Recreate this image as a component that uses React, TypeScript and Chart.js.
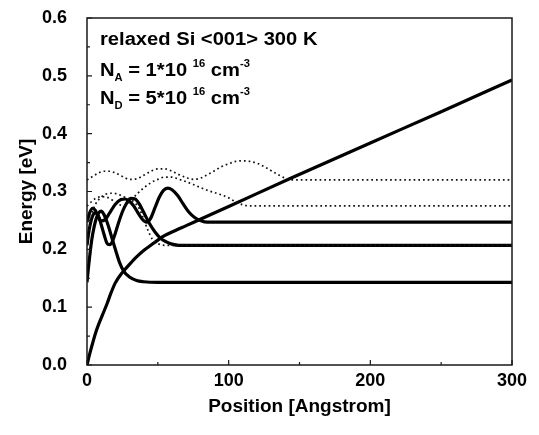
import React, { useEffect, useRef } from "react";
import { Chart, registerables } from "chart.js";

Chart.register(...registerables);

// ---- axis ticks ----
const xTickValues = [0, 100, 200, 300];
const xMinorTicks = [50, 150, 250];
const yTickValues = [0, 0.1, 0.2, 0.3, 0.4, 0.5, 0.6];
const yMinorTicks = [0.05, 0.15, 0.25, 0.35, 0.45, 0.55];

// ---- band-edge potential ----
const potentialX = [0, 2, 4, 6, 8, 11, 14, 17, 20, 25, 30, 35, 40, 45, 50, 55, 60, 70, 80, 100, 143, 200, 250, 300];
const potentialY = [0, 0.02, 0.038, 0.055, 0.069, 0.087, 0.105, 0.125, 0.142, 0.16, 0.174, 0.187, 0.198, 0.207, 0.216, 0.224, 0.23, 0.241, 0.252, 0.274, 0.322, 0.384, 0.438, 0.493];

// ---- solid subbands (levels + wavefunctions) ----
const s0X = [0, 1, 2, 3, 4, 6, 8, 10, 12, 14, 16, 18, 20, 23, 26, 30, 35, 40, 50, 300];
const s0Y = [0.143, 0.168, 0.19, 0.21, 0.226, 0.249, 0.262, 0.266, 0.26, 0.248, 0.233, 0.216, 0.2, 0.177, 0.162, 0.152, 0.146, 0.144, 0.143, 0.143];

const s1X = [0, 1, 2, 4, 6, 8, 10, 12, 14, 16, 18, 20, 22, 25, 28, 31, 34, 37, 40, 44, 48, 52, 56, 60, 65, 70, 300];
const s1Y = [0.207, 0.225, 0.24, 0.258, 0.263, 0.258, 0.243, 0.226, 0.211, 0.208, 0.214, 0.228, 0.244, 0.265, 0.28, 0.288, 0.287, 0.278, 0.264, 0.245, 0.23, 0.219, 0.213, 0.209, 0.207, 0.207, 0.207];

const s2X = [0, 1, 2, 4, 6, 8, 10, 13, 16, 20, 24, 27, 30, 33, 36, 39, 42, 45, 48, 51, 54, 57, 60, 64, 68, 72, 76, 80, 85, 90, 300];
const s2Y = [0.247, 0.256, 0.264, 0.271, 0.267, 0.256, 0.249, 0.252, 0.263, 0.278, 0.286, 0.287, 0.283, 0.275, 0.263, 0.252, 0.247, 0.254, 0.272, 0.29, 0.302, 0.306, 0.303, 0.293, 0.278, 0.264, 0.255, 0.25, 0.247, 0.247, 0.247];

// ---- dotted subbands (levels + wavefunctions) ----
const d0X = [0, 2, 4, 6, 9, 13, 17, 21, 26, 30, 34, 37, 40, 43, 46, 50, 55, 300];
const d0Y = [0.207, 0.24, 0.265, 0.278, 0.288, 0.295, 0.297, 0.296, 0.291, 0.287, 0.28, 0.27, 0.252, 0.233, 0.218, 0.21, 0.207, 0.207];

const d1X = [0, 3, 6, 10, 14, 18, 22, 26, 30, 35, 40, 45, 50, 55, 60, 65, 70, 75, 80, 85, 90, 95, 100, 105, 110, 115, 300];
const d1Y = [0.275, 0.282, 0.288, 0.291, 0.29, 0.285, 0.278, 0.276, 0.282, 0.295, 0.306, 0.315, 0.321, 0.325, 0.325, 0.321, 0.317, 0.312, 0.307, 0.302, 0.298, 0.294, 0.289, 0.282, 0.277, 0.275, 0.275];

const d2X = [0, 4, 8, 12, 16, 20, 25, 30, 35, 40, 45, 50, 55, 60, 65, 70, 75, 80, 85, 90, 95, 100, 105, 110, 115, 120, 125, 130, 135, 140, 145, 150, 300];
const d2Y = [0.32, 0.326, 0.332, 0.335, 0.335, 0.332, 0.326, 0.321, 0.322, 0.328, 0.335, 0.339, 0.339, 0.335, 0.329, 0.324, 0.321, 0.323, 0.329, 0.336, 0.343, 0.348, 0.352, 0.353, 0.352, 0.349, 0.343, 0.336, 0.329, 0.323, 0.32, 0.32, 0.32];

// ---- annotation text ----
const noteLine1 = "relaxed Si <001> 300 K";
const noteLine2 = [
  { t: "N", sub: 0 },
  { t: "A", sub: 1 },
  { t: " = 1*10 ", sub: 0 },
  { t: "16", sub: -1 },
  { t: " cm", sub: 0 },
  { t: "-3", sub: -1 },
];
const noteLine3 = [
  { t: "N", sub: 0 },
  { t: "D", sub: 1 },
  { t: " = 5*10 ", sub: 0 },
  { t: "16", sub: -1 },
  { t: " cm", sub: 0 },
  { t: "-3", sub: -1 },
];

const FONT = '"Liberation Sans", Arial, sans-serif';

const toPts = (xs: number[], ys: number[]) => xs.map((x, i) => ({ x, y: ys[i] }));

const framePlugin = {
  id: "framePlugin",
  afterDraw(chart: any) {
    const { ctx, chartArea } = chart;
    const { left, top, right, bottom } = chartArea;
    const xs = chart.scales.x;
    const ys = chart.scales.y;
    ctx.save();
    ctx.strokeStyle = "#1a1a1a";
    ctx.lineWidth = 1.5;
    ctx.strokeRect(left, top, right - left, bottom - top);
    ctx.lineWidth = 1.2;
    ctx.beginPath();
    yTickValues.forEach((v) => {
      const p = ys.getPixelForValue(v);
      ctx.moveTo(left, p);
      ctx.lineTo(left + 5, p);
    });
    yMinorTicks.forEach((v) => {
      const p = ys.getPixelForValue(v);
      ctx.moveTo(left, p);
      ctx.lineTo(left + 3, p);
    });
    xTickValues.forEach((v) => {
      const p = xs.getPixelForValue(v);
      ctx.moveTo(p, bottom);
      ctx.lineTo(p, bottom - 5);
    });
    xMinorTicks.forEach((v) => {
      const p = xs.getPixelForValue(v);
      ctx.moveTo(p, bottom);
      ctx.lineTo(p, bottom - 3);
    });
    ctx.stroke();

    // annotation
    ctx.fillStyle = "#000";
    ctx.textBaseline = "alphabetic";
    ctx.textAlign = "left";
    const sx = 1.12;
    const drawParts = (parts: { t: string; sub: number }[], x0: number, y0: number) => {
      ctx.save();
      ctx.translate(x0, y0);
      ctx.scale(sx, 1);
      let x = 0;
      parts.forEach((p) => {
        const size = p.sub === 0 ? 18 : 10;
        ctx.font = `bold ${size}px ${FONT}`;
        const dy = p.sub === 1 ? 5 : p.sub === -1 ? -9 : 0;
        ctx.fillText(p.t, x, dy);
        x += ctx.measureText(p.t).width;
      });
      ctx.restore();
    };
    const ax = left + 13;
    drawParts([{ t: noteLine1, sub: 0 }], ax, top + 27);
    drawParts(noteLine2, ax, top + 58);
    drawParts(noteLine3, ax, top + 86);
    ctx.restore();
  },
};

export default function App() {
  const canvasRef = useRef<HTMLCanvasElement | null>(null);

  useEffect(() => {
    if (!canvasRef.current) return;
    const solid = (data: any) => ({
      data,
      borderColor: "#000",
      borderWidth: 3.2,
      pointRadius: 0,
      fill: false,
      cubicInterpolationMode: "monotone" as const,
    });
    const dotted = (data: any) => ({
      data,
      borderColor: "#111",
      borderWidth: 1.7,
      borderDash: [1.7, 3],
      pointRadius: 0,
      fill: false,
      cubicInterpolationMode: "monotone" as const,
    });
    const tickFont = { family: FONT, size: 18, weight: "bold" as const };
    const titleFont = { family: FONT, size: 19, weight: "bold" as const };

    const chart = new Chart(canvasRef.current, {
      type: "line",
      data: {
        datasets: [
          dotted(toPts(d0X, d0Y)),
          dotted(toPts(d1X, d1Y)),
          dotted(toPts(d2X, d2Y)),
          solid(toPts(s0X, s0Y)),
          solid(toPts(s1X, s1Y)),
          solid(toPts(s2X, s2Y)),
          solid(toPts(potentialX, potentialY)),
        ],
      },
      options: {
        animation: false,
        responsive: false,
        devicePixelRatio: 1,
        layout: { padding: { top: 10, right: 19, left: 0, bottom: 0 } },
        plugins: { legend: { display: false }, tooltip: { enabled: false } },
        scales: {
          x: {
            type: "linear",
            min: 0,
            max: 300,
            afterFit: (s: any) => {
              s.height = 62;
              s.paddingLeft = 0;
              s.paddingRight = 0;
            },
            afterBuildTicks: (s: any) => {
              s.ticks = xTickValues.map((v) => ({ value: v }));
            },
            grid: { display: false, drawTicks: false, tickLength: 0 },
            border: { display: false },
            ticks: { font: tickFont, color: "#000", padding: 5, maxRotation: 0 },
            title: {
              display: true,
              text: "Position [Angstrom]",
              font: titleFont,
              color: "#000",
              padding: { top: 0, bottom: 9 },
            },
          },
          y: {
            type: "linear",
            min: 0,
            max: 0.6,
            afterFit: (s: any) => {
              s.width = 79;
              s.paddingTop = 0;
              s.paddingBottom = 0;
            },
            afterBuildTicks: (s: any) => {
              s.ticks = yTickValues.map((v) => ({ value: v }));
            },
            grid: { display: false, drawTicks: false, tickLength: 0 },
            border: { display: false },
            ticks: {
              font: tickFont,
              color: "#000",
              padding: 20,
              callback: (v: any) => Number(v).toFixed(1),
            },
            title: {
              display: true,
              text: "Energy [eV]",
              font: titleFont,
              color: "#000",
              padding: { top: 7, bottom: 0 },
            },
          },
        },
      },
      plugins: [framePlugin],
    });
    return () => chart.destroy();
  }, []);

  return <canvas ref={canvasRef} width={523} height={419} style={{ display: "block" }} />;
}
